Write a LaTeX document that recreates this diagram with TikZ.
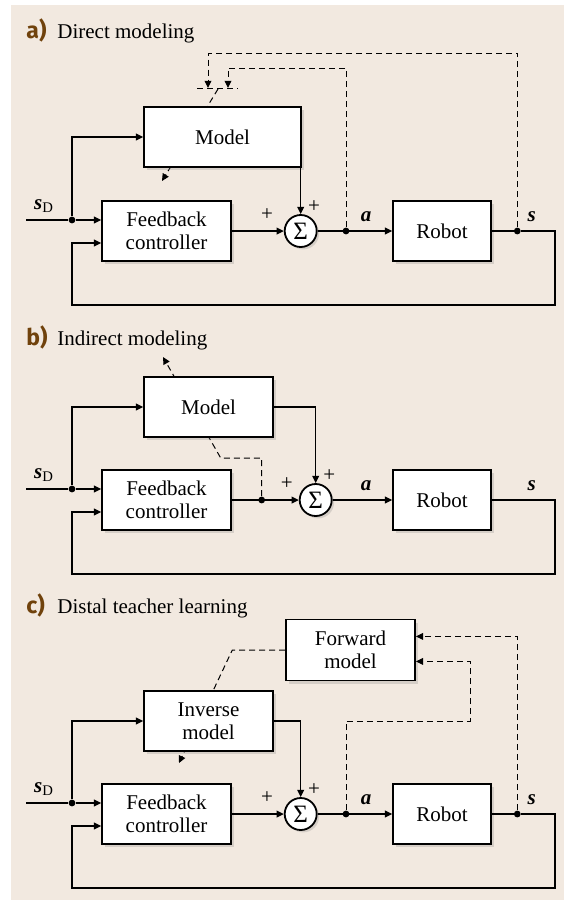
\documentclass[tikz,border=0pt]{standalone}
\usepackage{fontspec}
\setmainfont{Liberation Serif}
\newfontfamily\labfont{Fira Sans}
\usetikzlibrary{arrows.meta,shadows}

\definecolor{paper}{RGB}{242,233,224}
\definecolor{labbrown}{RGB}{112,66,12}

\begin{document}
\begin{tikzpicture}[x=0.5pt, y=-0.5pt,
  font=\fontsize{10.5}{11.6}\selectfont,
  block/.style={draw, line width=0.9pt, fill=white, inner sep=0pt,
    minimum height=30pt, align=center,
    drop shadow={shadow xshift=1.5pt, shadow yshift=-1.5pt, opacity=0.25}},
  sumnode/.style={draw, circle, line width=0.9pt, fill=white, inner sep=0pt,
    minimum size=16pt, font=\fontsize{12.5}{13}\selectfont,
    drop shadow={shadow xshift=1.2pt, shadow yshift=-1.2pt, opacity=0.25}},
  wire/.style={line width=0.6pt},
  arr/.style={line width=0.6pt, -{Triangle[length=3.6pt,width=3.4pt]}},
  dsh/.style={line width=0.5pt, dash pattern=on 3pt off 2pt},
  jdot/.style={circle, fill, inner sep=0pt, minimum size=3.4pt},
  lab/.style={anchor=base west, inner sep=0pt, text=labbrown,
    font=\labfont\bfseries\fontsize{11.5}{12}\selectfont},
  ttl/.style={anchor=base west, inner sep=0pt}]

  \useasboundingbox (0,0) rectangle (564,901);
  \fill[paper] (11,5) rectangle (564,900);

  % --- a) direct modeling ---
  \begin{scope}[shift={(0,231)}]
    \node[lab] (labA) at (26,-193) {a)};
    \node[ttl] (ttlA) at (57,-193) {Direct modeling};
    \coordinate (e1A) at (197,-143);
    \coordinate (e2A) at (238,-143);
    \coordinate (t1A) at (208,-143);
    \coordinate (t2A) at (228,-143);
    \draw[wire,dsh] (e1A) -- (e2A);
    \draw[arr,dsh] (218,-142) -- (162,-50);
    \node[block, minimum width=78.5pt] (mA) at (222.5,-94) {Model};
    \node[block, minimum width=64.5pt] (fbA) at (166.5,0) {Feedback\\controller};
    \node[sumnode] (sumA) at (300.7,0) {Σ};
    \node[block, minimum width=49pt] (robA) at (442,0) {Robot};
    \node[jdot] (jdA) at (72,-11) {};
    \node[jdot] (jaA) at (346,0) {};
    \node[jdot] (jsA) at (517.3,0) {};
    \coordinate (inA) at (26,-11);
    \coordinate (brA) at (555,74);
    \coordinate (blA) at (72,74);
    \draw[wire] (inA) -- (jdA);
    \draw[arr] (jdA) -- (jdA -| fbA.west);
    \draw[arr] (jdA) |- (mA);
    \draw[arr] (fbA) -- (sumA);
    \draw[arr] (mA) -| (sumA);
    \draw[arr] (sumA) -- (robA);
    \draw[wire] (robA) -- (jsA);
    \draw[arr] (jsA) -| (brA) -- (blA) |- ([yshift=-6pt]fbA.west);
    \draw[arr,dsh] (jsA) -- ++(0,-178) -| (t1A);
    \draw[arr,dsh] (jaA) -- ++(0,-163) -| (t2A);
    \node (sdA) at (44,-25) {\textbf{\textit{s}}\textsubscript{D}};
    \node (pfA) at (267,-16) {+};
    \node (pmA) at (314,-24) {+};
    \node (aA) at (366,-14) {\textbf{\textit{a}}};
    \node (sA) at (531.7,-14) {\textbf{\textit{s}}};
  \end{scope}

  % --- b) indirect modeling ---
  \begin{scope}[shift={(0,500)}]
    \node[lab] (labB) at (26,-155) {b)};
    \node[ttl] (ttlB) at (57,-155) {Indirect modeling};
    \node[jdot] (jfB) at (261.7,0) {};
    \draw[arr,dsh] (jfB) -- ++(0,-42) -- (220.7,-42) -- (163,-143);
    \node[block, minimum width=64.5pt] (mB) at (208.5,-93) {Model};
    \node[block, minimum width=64.5pt] (fbB) at (166.5,0) {Feedback\\controller};
    \node[sumnode] (sumB) at (315.7,0) {Σ};
    \node[block, minimum width=49pt] (robB) at (442,0) {Robot};
    \node[jdot] (jdB) at (72,-11) {};
    \coordinate (inB) at (26,-11);
    \coordinate (brB) at (555,74);
    \coordinate (blB) at (72,74);
    \draw[wire] (inB) -- (jdB);
    \draw[arr] (jdB) -- (jdB -| fbB.west);
    \draw[arr] (jdB) |- (mB);
    \draw[arr] (fbB) -- (sumB);
    \draw[arr] (mB) -| (sumB);
    \draw[arr] (sumB) -- (robB);
    \draw[arr] (robB) -| (brB) -- (blB) |- ([yshift=-6pt]fbB.west);
    \node (sdB) at (44,-25) {\textbf{\textit{s}}\textsubscript{D}};
    \node (pfB) at (286.7,-16) {+};
    \node (pmB) at (329.3,-24) {+};
    \node (aB) at (366,-14) {\textbf{\textit{a}}};
    \node (sB) at (531.7,-14) {\textbf{\textit{s}}};
  \end{scope}

  % --- c) distal teacher learning ---
  \begin{scope}[shift={(0,814)}]
    \node[lab] (labC) at (26,-200.7) {c)};
    \node[ttl] (ttlC) at (57,-200.7) {Distal teacher learning};
    \node[block, minimum width=64.5pt, minimum height=30.5pt] (fwC) at (350.5,-164) {Forward\\model};
    \draw[arr,dsh] (fwC.west) -- (232.3,-164) -- (179,-51);
    \node[block, minimum width=64.5pt] (ivC) at (208.5,-93) {Inverse\\model};
    \node[block, minimum width=64.5pt] (fbC) at (166.5,0) {Feedback\\controller};
    \node[sumnode] (sumC) at (300.7,0) {Σ};
    \node[block, minimum width=49pt] (robC) at (442,0) {Robot};
    \node[jdot] (jdC) at (72,-11) {};
    \node[jdot] (jaC) at (346,0) {};
    \node[jdot] (jsC) at (517.3,0) {};
    \coordinate (inC) at (26,-11);
    \coordinate (brC) at (555,74);
    \coordinate (blC) at (72,74);
    \draw[wire] (inC) -- (jdC);
    \draw[arr] (jdC) -- (jdC -| fbC.west);
    \draw[arr] (jdC) |- (ivC);
    \draw[arr] (fbC) -- (sumC);
    \draw[arr] (ivC) -| (sumC);
    \draw[arr] (sumC) -- (robC);
    \draw[wire] (robC) -- (jsC);
    \draw[arr] (jsC) -| (brC) -- (blC) |- ([yshift=-6pt]fbC.west);
    \draw[arr,dsh] (jsC) |- ([yshift=6.8pt]fwC.east);
    \draw[arr,dsh] (jaC) -- ++(0,-93) -- ++(124,0) |- ([yshift=-5.7pt]fwC.east);
    \node (sdC) at (44,-25) {\textbf{\textit{s}}\textsubscript{D}};
    \node (pfC) at (267,-16) {+};
    \node (pmC) at (314,-24) {+};
    \node (aC) at (366,-14) {\textbf{\textit{a}}};
    \node (sC) at (531.7,-14) {\textbf{\textit{s}}};
  \end{scope}
\end{tikzpicture}
\end{document}
